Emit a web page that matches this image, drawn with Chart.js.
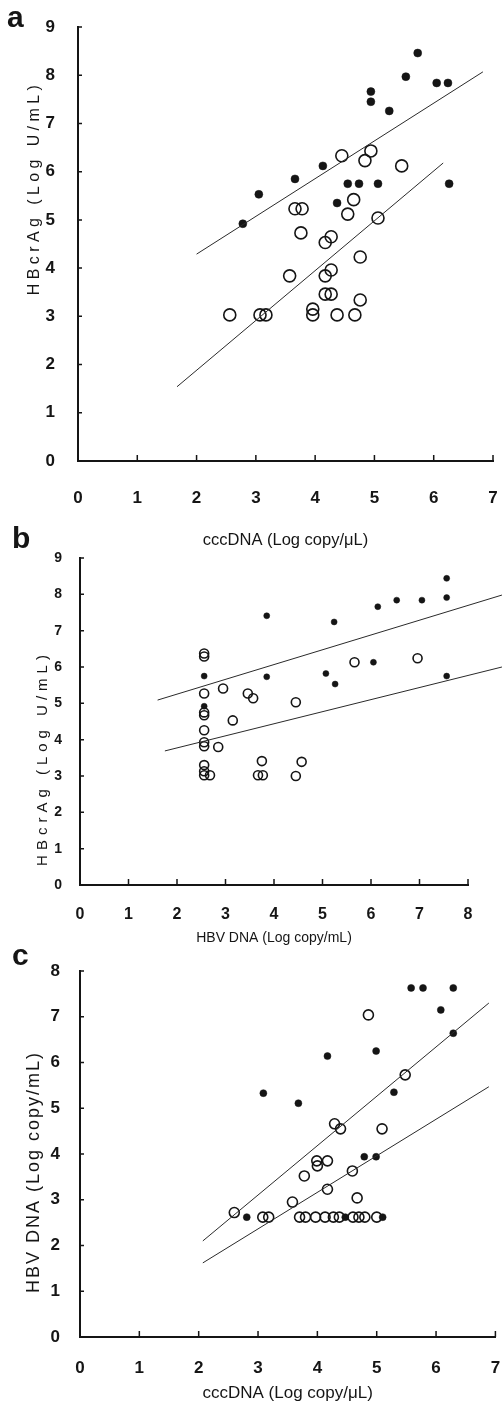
<!DOCTYPE html>
<html>
<head>
<meta charset="utf-8">
<script src="https://cdn.jsdelivr.net/npm/chart.js@4.4.1/dist/chart.umd.min.js"></script>
<style>
  body { margin: 0; background: #fff; width: 502px; height: 1404px; overflow: hidden; position: relative; }
  canvas { position: absolute; left: 0; }
</style>
</head>
<body>
<canvas id="chartA" width="502" height="552" style="top:0px"></canvas>
<canvas id="chartB" width="502" height="440" style="top:520px"></canvas>
<canvas id="chartC" width="502" height="459" style="top:945px"></canvas>
<script>
// Panel a: cccDNA vs HBcrAg
const aFilled = [[2.78,4.92],[3.05,5.53],[3.66,5.85],[4.13,6.12],[4.37,5.35],[4.55,5.75],[4.74,5.75],[4.94,7.66],[4.94,7.45],[5.06,5.75],[5.25,7.26],[5.53,7.97],[5.73,8.46],[6.05,7.84],[6.24,7.84],[6.26,5.75]];
const aOpen = [[4.45,6.33],[4.84,6.23],[4.94,6.43],[5.46,6.12],[3.66,5.23],[3.78,5.23],[4.65,5.42],[4.55,5.12],[5.06,5.04],[3.76,4.73],[4.17,4.53],[4.27,4.65],[4.76,4.23],[3.57,3.84],[4.17,3.84],[4.27,3.96],[4.17,3.46],[4.27,3.46],[4.76,3.34],[3.96,3.15],[3.96,3.03],[2.56,3.03],[3.07,3.03],[3.17,3.03],[4.37,3.03],[4.67,3.03]];
const aLineUpper = [[2.0,4.29],[6.83,8.07]];
const aLineLower = [[1.67,1.54],[6.16,6.18]];

// Panel b: HBV DNA vs HBcrAg
const bFilled = [[2.56,5.75],[2.56,4.92],[3.85,7.41],[3.85,5.73],[5.24,7.24],[5.07,5.82],[5.26,5.53],[6.05,6.13],[6.14,7.66],[6.53,7.84],[7.05,7.84],[7.56,8.44],[7.56,7.91],[7.56,5.75]];
const bOpen = [[2.56,6.37],[2.56,6.29],[2.56,5.27],[2.56,4.75],[2.56,4.67],[2.56,4.26],[2.56,3.93],[2.56,3.82],[2.56,3.3],[2.56,3.13],[2.56,3.02],[2.68,3.02],[2.95,5.41],[3.46,5.27],[3.57,5.14],[3.15,4.53],[2.85,3.8],[4.45,5.03],[3.75,3.41],[3.67,3.02],[3.77,3.02],[5.66,6.13],[6.96,6.24],[4.45,3.0],[4.57,3.39]];
const bLineUpper = [[1.6,5.09],[8.7,7.98]];
const bLineLower = [[1.75,3.69],[8.7,6.0]];

// Panel c: cccDNA vs HBV DNA
const cFilled = [[3.09,5.33],[3.68,5.11],[4.17,6.14],[4.99,6.25],[5.29,5.35],[4.79,3.94],[4.99,3.94],[5.58,7.63],[5.78,7.63],[6.29,7.63],[6.08,7.15],[6.29,6.64],[2.81,2.62],[4.47,2.62],[5.1,2.62]];
const cOpen = [[4.86,7.04],[5.48,5.73],[4.29,4.66],[4.39,4.55],[5.09,4.55],[3.99,3.85],[4.0,3.74],[4.17,3.85],[4.59,3.63],[3.78,3.52],[4.17,3.23],[4.67,3.04],[3.58,2.95],[2.6,2.72],[3.08,2.62],[3.18,2.62],[3.7,2.62],[3.8,2.62],[3.97,2.62],[4.13,2.62],[4.27,2.62],[4.37,2.62],[4.6,2.62],[4.7,2.62],[4.8,2.62],[5.0,2.62]];
const cLineUpper = [[2.07,2.1],[6.89,7.3]];
const cLineLower = [[2.07,1.62],[6.89,5.47]];

const INK = '#151515';
const FONT = '"Liberation Sans", Arial, sans-serif';

function toPoints(list) {
    return list.map(p => ({ x: p[0], y: p[1] }));
}

// small tick marks pointing into the plot
const innerTicks = {
    id: 'innerTicks',
    afterDraw(chart, args, opts) {
        const { ctx, chartArea, scales: { x, y } } = chart;
        ctx.save();
        ctx.strokeStyle = INK;
        ctx.lineWidth = 1.5;
        ctx.beginPath();
        x.ticks.forEach(t => {
            const px = x.getPixelForValue(t.value);
            ctx.moveTo(px, chartArea.bottom);
            ctx.lineTo(px, chartArea.bottom - opts.xLen);
        });
        y.ticks.forEach(t => {
            const py = y.getPixelForValue(t.value);
            ctx.moveTo(chartArea.left, py);
            ctx.lineTo(chartArea.left + opts.yLen, py);
        });
        ctx.stroke();
        ctx.restore();
    }
};

// panel letter and the rotated y title
const panelText = {
    id: 'panelText',
    afterDraw(chart, args, opts) {
        const ctx = chart.ctx;
        ctx.save();
        ctx.fillStyle = INK;
        ctx.font = 'bold 30px ' + FONT;
        ctx.fillText(opts.letter, opts.letterX, opts.letterY);
        ctx.translate(opts.titleX, opts.titleY);
        ctx.rotate(-Math.PI / 2);
        ctx.font = opts.titleFont;
        ctx.letterSpacing = opts.spacing;
        ctx.textAlign = 'center';
        ctx.textBaseline = 'middle';
        ctx.fillText(opts.title, 0, 0);
        ctx.letterSpacing = '0px';
        ctx.restore();
    }
};

// drop the label overhang padding so layout.padding alone sets the plot box
function noOverhang(s) {
    s.paddingTop = 0;
    s.paddingBottom = 0;
    s.paddingLeft = 0;
    s.paddingRight = 0;
}

function makePanel(id, p) {
    const ctx = document.getElementById(id).getContext('2d');
    const lineStyle = { showLine: true, borderColor: '#2a2a2a', borderWidth: 1, pointRadius: 0, clip: false };
    return new Chart(ctx, {
        type: 'scatter',
        data: {
            datasets: [
                Object.assign({ data: toPoints(p.lineUpper) }, lineStyle),
                Object.assign({ data: toPoints(p.lineLower) }, lineStyle),
                {
                    data: toPoints(p.open),
                    pointRadius: p.openR,
                    borderColor: INK,
                    borderWidth: 1.6,
                    backgroundColor: 'rgba(0,0,0,0)',
                    clip: false
                },
                {
                    data: toPoints(p.filled),
                    pointRadius: p.filledR,
                    borderColor: INK,
                    borderWidth: 0.5,
                    backgroundColor: INK,
                    clip: false
                }
            ]
        },
        plugins: [innerTicks, panelText],
        options: {
            responsive: false,
            animation: false,
            events: [],
            layout: { padding: { top: p.top, right: 502 - p.right, left: 0, bottom: 0 } },
            plugins: {
                legend: { display: false },
                tooltip: { enabled: false },
                innerTicks: { xLen: 6, yLen: 4 },
                panelText: p.text
            },
            scales: {
                x: {
                    type: 'linear',
                    min: 0,
                    max: p.xMax,
                    grid: { display: false, drawTicks: false },
                    border: { color: INK, width: 2 },
                    ticks: { stepSize: 1, padding: p.xPad, color: INK, font: p.xTickFont },
                    title: {
                        display: true,
                        text: p.xTitle,
                        color: INK,
                        font: p.xTitleFont,
                        padding: { top: 0, bottom: p.xTitlePad }
                    },
                    afterFit: s => { s.height = p.height - p.bottom; noOverhang(s); }
                },
                y: {
                    type: 'linear',
                    min: 0,
                    max: p.yMax,
                    grid: { display: false, drawTicks: false },
                    border: { color: INK, width: 2 },
                    ticks: { stepSize: 1, padding: p.yPad, color: INK, font: p.yTickFont },
                    afterFit: s => { s.width = p.left; noOverhang(s); }
                }
            }
        }
    });
}

makePanel('chartA', {
    filled: aFilled, open: aOpen, lineUpper: aLineUpper, lineLower: aLineLower,
    openR: 6, filledR: 4,
    height: 552, top: 27, bottom: 461, left: 78, right: 493,
    xMax: 7, yMax: 9, xPad: 27, yPad: 23,
    xTickFont: { family: FONT, size: 17, weight: 'bold' },
    yTickFont: { family: FONT, size: 17, weight: 'bold' },
    xTitle: 'cccDNA (Log copy/μL)', xTitleFont: { family: FONT, size: 16.5 }, xTitlePad: 2,
    text: { letter: 'a', letterX: 7, letterY: 27, title: 'HBcrAg (Log U/mL)', titleX: 35, titleY: 188,
            titleFont: '16px ' + FONT, spacing: '4.4px' }
});

makePanel('chartB', {
    filled: bFilled, open: bOpen, lineUpper: bLineUpper, lineLower: bLineLower,
    openR: 4.5, filledR: 3,
    height: 440, top: 38, bottom: 365, left: 80, right: 468,
    xMax: 8, yMax: 9, xPad: 20, yPad: 18,
    xTickFont: { family: FONT, size: 16, weight: 'bold' },
    yTickFont: { family: FONT, size: 14, weight: 'bold' },
    xTitle: 'HBV DNA (Log copy/mL)', xTitleFont: { family: FONT, size: 14 }, xTitlePad: 13.6,
    text: { letter: 'b', letterX: 12, letterY: 28, title: 'HBcrAg (Log U/mL)', titleX: 43, titleY: 238,
            titleFont: '15px ' + FONT, spacing: '5px' }
});

makePanel('chartC', {
    filled: cFilled, open: cOpen, lineUpper: cLineUpper, lineLower: cLineLower,
    openR: 5, filledR: 3.5,
    height: 459, top: 26, bottom: 392, left: 80, right: 497,
    xMax: 7, yMax: 8, xPad: 21, yPad: 20,
    xTickFont: { family: FONT, size: 17, weight: 'bold' },
    yTickFont: { family: FONT, size: 17, weight: 'bold' },
    xTitle: 'cccDNA (Log copy/μL)', xTitleFont: { family: FONT, size: 17 }, xTitlePad: 0,
    text: { letter: 'c', letterX: 12, letterY: 20, title: 'HBV DNA (Log copy/mL)', titleX: 34, titleY: 227,
            titleFont: '18px ' + FONT, spacing: '2px' }
});
</script>
</body>
</html>
